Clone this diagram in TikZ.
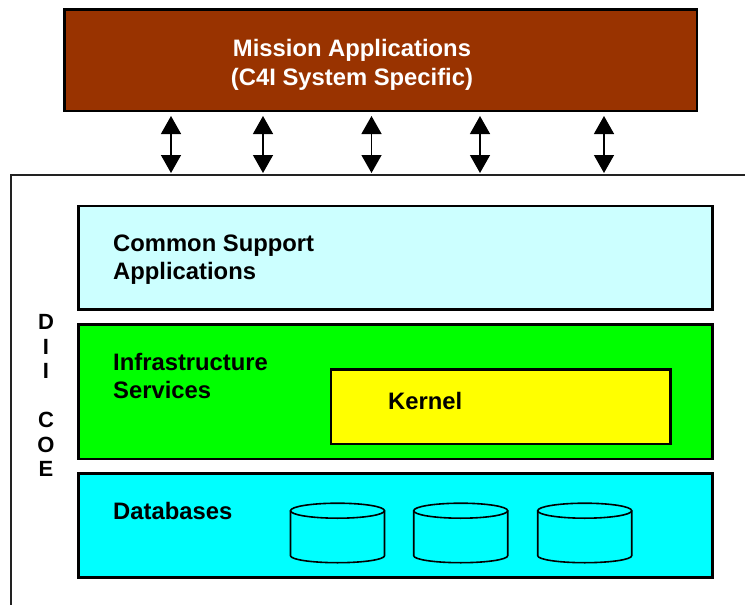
\documentclass[tikz,border=0pt]{standalone}
\usepackage{fontspec}
\setmainfont{Liberation Sans}
\usetikzlibrary{arrows.meta}
\definecolor{mbrown}{HTML}{993300}
\definecolor{lcyan}{HTML}{CCFFFF}
\definecolor{lgreen}{HTML}{00FF00}
\definecolor{kyellow}{HTML}{FFFF00}
\definecolor{dcyan}{HTML}{00FFFF}
\definecolor{framegray}{HTML}{222222}
\begin{document}
\begin{tikzpicture}[x=1pt,y=-1pt,
  layerbox/.style={draw=black, line width=2.6pt, inner sep=0pt, outer sep=0pt, anchor=north west},
  lbl/.style={inner sep=0pt, font=\fontsize{23.8}{27.5}\selectfont\bfseries, align=left, anchor=base west},
  dii/.style={inner sep=0pt, font=\fontsize{22}{24.5}\selectfont\bfseries, align=center, anchor=base},
  biarrow/.style={line width=1.4pt, {Triangle[width=20pt,length=18pt]}-{Triangle[width=20pt,length=18pt]}},
  frameline/.style={draw=framegray, line width=1.5pt},
  cylline/.style={draw=black, line width=1.6pt},
  dbcyl/.pic={
    \draw[cylline] (-47,0) -- (-47,45) arc[start angle=180,end angle=0,x radius=47,y radius=7] -- (47,0);
    \draw[cylline] (0,0) ellipse[x radius=47,y radius=7.5];
  }]
\useasboundingbox (0,0) rectangle (745,605);

% outer frame
\coordinate (fr) at (745,175);
\coordinate (ftl) at (11,175);
\coordinate (fbl) at (11,605);
\draw[frameline] (fr) -- (ftl) -- (fbl);

% mission box
\node[layerbox, fill=mbrown, minimum width=632.5, minimum height=101.5] (mission) at (64.5,9.5) {};
\node[inner sep=0pt, font=\fontsize{23.8}{28.3}\selectfont\bfseries, align=center, anchor=base, text=white] (missiontxt) at (352,85) {Mission Applications\\(C4I System Specific)};

% arrows
\foreach \i/\x in {1/171,2/263,3/371.5,4/480,5/604}{
  \coordinate (at\i) at (\x,116);
  \coordinate (ab\i) at (\x,173);
  \draw[biarrow] (at\i) -- (ab\i);
}

% layers
\node[layerbox, fill=lcyan, minimum width=634.4, minimum height=103.7] (csa) at (78.3,206) {};
\node[lbl] (csatxt) at (113,279.3) {Common Support\\Applications};

\node[layerbox, fill=lgreen, minimum width=634.4, minimum height=134.3] (infra) at (78.3,324.7) {};
\node[lbl, font=\fontsize{23.8}{28.3}\selectfont\bfseries] (infratxt) at (113,398.3) {Infrastructure\\Services};

\node[layerbox, fill=kyellow, minimum width=339.5, minimum height=74.1] (kernel) at (331,369.7) {};
\node[lbl] (kerneltxt) at (388,409.5) {Kernel};

\node[layerbox, fill=dcyan, minimum width=634.4, minimum height=104.2] (db) at (78.3,473.3) {};
\node[lbl] (dbtxt) at (113,519.5) {Databases};

\pic at (337.5,510.7) {dbcyl};
\pic at (460.7,510.7) {dbcyl};
\pic at (584.7,510.7) {dbcyl};

% DII COE
\node[dii] (diitxt) at (46,476.7) {D\\I\\I\\\mbox{}\\C\\O\\E};
\end{tikzpicture}
\end{document}
